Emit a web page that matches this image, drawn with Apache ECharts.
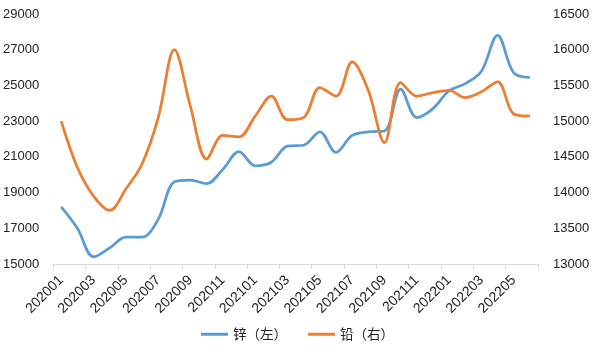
<!DOCTYPE html>
<html>
<head>
<meta charset="utf-8">
<script src="https://cdn.jsdelivr.net/npm/echarts@6/dist/echarts.min.js"></script>
<style>html,body{margin:0;padding:0;background:#fff;}#c{width:595px;height:356px;}</style>
</head>
<body>
<div id="c"></div>
<script>
var categories = ['202001','202002','202003','202004','202005','202006','202007','202008','202009','202010','202011','202012',
  '202101','202102','202103','202104','202105','202106','202107','202108','202109','202110','202111','202112',
  '202201','202202','202203','202204','202205','202206'];
var zinc = [18200,17000,15400,15900,16500,16500,17500,19600,19700,19500,20300,21300,
  20500,20700,21600,21650,22400,21250,22200,22400,22450,24800,23200,23700,
  24700,25100,25800,27800,25700,25450];
var lead = [15000,14350,13950,13750,14050,14400,15050,16000,15200,14470,14800,14780,
  15070,15350,15020,15050,15470,15350,15830,15430,14700,15540,15350,15400,
  15430,15330,15410,15550,15100,15070];
var leftTicks = {min:15000, max:29000, interval:2000};
var rightTicks = {min:13000, max:16500, interval:500};

var chart = echarts.init(document.getElementById('c'), null, {renderer:'canvas'});
var font = 'Liberation Sans, Arial, sans-serif';
function plain(v){ return String(v); }
chart.setOption({
  animation:false,
  grid:{left:53, right:57, top:14, bottom:92, containLabel:false},
  legend:{
    bottom:10, left:'center', itemWidth:27, itemHeight:3, itemGap:21, icon:'rect',
    textStyle:{fontSize:13.5, color:'#222', fontFamily:'Noto Sans CJK SC, sans-serif'},
    data:['锌（左）','铅（右）']
  },
  xAxis:{
    type:'category', data:categories, boundaryGap:true,
    axisLine:{show:true, lineStyle:{color:'#d9d9d9', width:1}},
    axisTick:{show:true, interval:1, length:5, lineStyle:{color:'#d9d9d9'}},
    axisLabel:{interval:1, rotate:45, fontSize:14, color:'#222', fontFamily:font, margin:14},
    splitLine:{show:false}
  },
  yAxis:[
    {type:'value', min:leftTicks.min, max:leftTicks.max, interval:leftTicks.interval,
     axisLine:{show:false}, axisTick:{show:false}, splitLine:{show:false},
     axisLabel:{fontSize:13, color:'#222', fontFamily:font, margin:14, formatter:plain}},
    {type:'value', min:rightTicks.min, max:rightTicks.max, interval:rightTicks.interval, position:'right',
     axisLine:{show:false}, axisTick:{show:false}, splitLine:{show:false},
     axisLabel:{fontSize:13, color:'#222', fontFamily:font, margin:15, formatter:plain}}
  ],
  series:[
    {name:'锌（左）', type:'line', yAxisIndex:0, data:zinc, smooth:0.35, symbol:'none',
     lineStyle:{color:'#5B9BD5', width:2.75}, itemStyle:{color:'#5B9BD5'}},
    {name:'铅（右）', type:'line', yAxisIndex:1, data:lead, smooth:0.35, symbol:'none',
     lineStyle:{color:'#ED7D31', width:2.75}, itemStyle:{color:'#ED7D31'}}
  ]
});
</script>
</body>
</html>
